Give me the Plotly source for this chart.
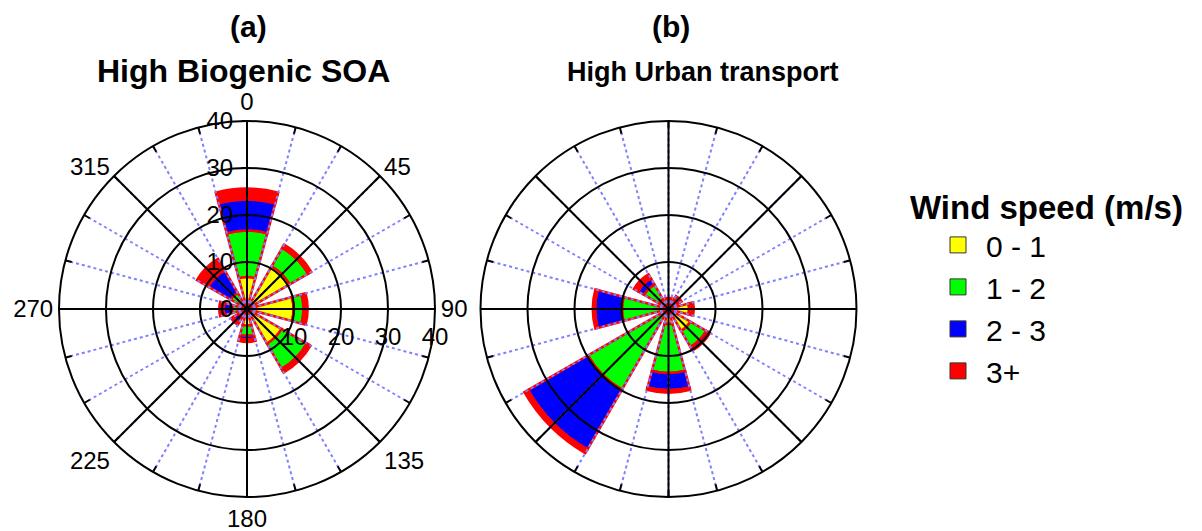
import plotly.graph_objects as go

# Wind direction sectors (degrees from north) and sector width
directions = [0, 45, 90, 135, 180, 225, 270, 315]
sector_width = 30

speed_classes = ["0 - 1", "1 - 2", "2 - 3", "3+"]
class_colors = ["#ffff00", "#00ff00", "#0000ff", "#ff0000"]

# Frequency (%) per direction for each wind-speed class, panel (a)
biogenic_0_1 = [6.8, 10.5, 9.9, 8.5, 3.5, 0.8, 1.0, 1.0]
biogenic_1_2 = [9.9, 4.5, 2.1, 6.2, 2.2, 1.2, 2.2, 3.0]
biogenic_2_3 = [6.6, 0.5, 0.0, 0.6, 0.8, 1.2, 1.8, 5.5]
biogenic_3p = [2.3, 0.3, 0.9, 0.3, 0.5, 0.7, 0.9, 2.8]

# Frequency (%) per direction for each wind-speed class, panel (b)
urban_0_1 = [0.8, 2.0, 4.4, 5.4, 3.2, 1.0, 1.0, 2.4]
urban_1_2 = [0.7, 0.5, 0.6, 3.9, 10.4, 18.8, 8.9, 3.6]
urban_2_3 = [0.3, 0.2, 0.0, 0.6, 3.7, 14.7, 5.7, 1.5]
urban_3p = [0.6, 0.5, 0.4, 0.3, 0.5, 0.9, 0.5, 1.0]

radial_ticks = [0, 10, 20, 30, 40]
angle_labels = ["0", "45", "90", "135", "180", "225", "270", "315"]

panel_letters = ["(a)", "(b)"]
panel_titles = ["High Biogenic SOA", "High Urban transport"]

FONT = "Liberation Sans, Arial, Helvetica, sans-serif"

panels = [
    [biogenic_0_1, biogenic_1_2, biogenic_2_3, biogenic_3p],
    [urban_0_1, urban_1_2, urban_2_3, urban_3p],
]

fig = go.Figure()

# three stacked polar layers per panel: bars, dotted 15-degree grid, solid grid
bar_subplots = ["polar", "polar4"]
dot_subplots = ["polar2", "polar5"]
main_subplots = ["polar3", "polar6"]

for series, sp in zip(panels, bar_subplots):
    for values, color in zip(series, class_colors):
        fig.add_trace(go.Barpolar(
            r=values, theta=directions, width=[sector_width] * len(directions),
            marker=dict(color=color, line=dict(color="#ff0000", width=2.5)),
            subplot=sp, showlegend=False, hoverinfo="skip",
        ))

for sp in dot_subplots + main_subplots:
    fig.add_trace(go.Scatterpolar(
        r=[0], theta=[0], mode="markers", marker=dict(size=1, opacity=0),
        subplot=sp, showlegend=False, hoverinfo="skip",
    ))

# legend entries
for label, color in zip(speed_classes, class_colors):
    fig.add_trace(go.Scatterpolar(
        r=[None], theta=[None], mode="markers", name=label,
        marker=dict(symbol="square", size=20, color=color,
                    line=dict(color="#333333", width=1)),
        subplot="polar",
    ))

centers = [(247, 309), (668.5, 309)]
R = 188
W, H = 1202, 531


def domain(cx, cy):
    return dict(x=[(cx - R) / W, (cx + R) / W],
                y=[(H - cy - R) / H, (H - cy + R) / H])


common_angular = dict(rotation=90, direction="clockwise")

for i, (cx, cy) in enumerate(centers):
    dom = domain(cx, cy)
    labelled = i == 0
    fig.layout[bar_subplots[i]] = dict(
        domain=dom, bgcolor="white", barmode="stack",
        radialaxis=dict(range=[0, 40], visible=False),
        angularaxis=dict(**common_angular, visible=False),
    )
    fig.layout[dot_subplots[i]] = dict(
        domain=dom, bgcolor="rgba(0,0,0,0)",
        radialaxis=dict(range=[0, 40], angle=0, side="clockwise",
                        tickvals=radial_ticks[1:], showticklabels=labelled,
                        tickfont=dict(family=FONT, size=24, color="black"),
                        showgrid=False, showline=False, ticks="outside",
                        ticklen=7, tickcolor="rgba(0,0,0,0)"),
        angularaxis=dict(**common_angular, tickmode="linear", tick0=0, dtick=15,
                         showgrid=True, gridcolor="#8080ff", gridwidth=1.5,
                         griddash="dot", showline=False, showticklabels=False,
                         ticks="inside", ticklen=6, tickcolor="black", tickwidth=1.5),
    )
    fig.layout[main_subplots[i]] = dict(
        domain=dom, bgcolor="rgba(0,0,0,0)",
        radialaxis=dict(range=[0, 40], angle=90, side="counterclockwise",
                        tickvals=radial_ticks, showticklabels=labelled,
                        tickangle=90,
                        tickfont=dict(family=FONT, size=24, color="black"),
                        showgrid=True, gridcolor="black", gridwidth=2,
                        showline=False, ticks="outside" if labelled else "",
                        ticklen=5, tickcolor="black", tickwidth=2),
        angularaxis=dict(**common_angular, tickmode="array", tickvals=directions,
                         ticktext=angle_labels, showticklabels=labelled,
                         tickfont=dict(family=FONT, size=24, color="black"),
                         showgrid=True, gridcolor="black", gridwidth=2,
                         showline=True, linecolor="black", linewidth=2, ticks=""),
    )

annotations = [
    dict(text="<b>%s</b>" % panel_letters[0], x=248 / W, y=1 - 27 / H, font_size=30),
    dict(text="<b>%s</b>" % panel_titles[0], x=243.5 / W, y=1 - 71 / H, font_size=32),
    dict(text="<b>%s</b>" % panel_letters[1], x=671 / W, y=1 - 27 / H, font_size=30),
    dict(text="<b>%s</b>" % panel_titles[1], x=703 / W, y=1 - 72 / H, font_size=27),
]
for a in annotations:
    fig.add_annotation(xref="paper", yref="paper", showarrow=False,
                       xanchor="center", yanchor="middle",
                       text=a["text"], x=a["x"], y=a["y"],
                       font=dict(family=FONT, size=a["font_size"], color="black"))

fig.update_layout(
    width=W, height=H,
    margin=dict(l=0, r=0, t=0, b=0),
    paper_bgcolor="white",
    font=dict(family=FONT, color="black"),
    legend=dict(
        title=dict(text="<b>Wind speed (m/s)</b>", font=dict(family=FONT, size=33)),
        font=dict(family=FONT, size=30),
        x=908 / W, y=1 - 176 / H, xanchor="left", yanchor="top",
        itemsizing="trace", indentation=22, itemwidth=46,
        bgcolor="rgba(0,0,0,0)",
    ),
)

fig.write_html("out.html")
